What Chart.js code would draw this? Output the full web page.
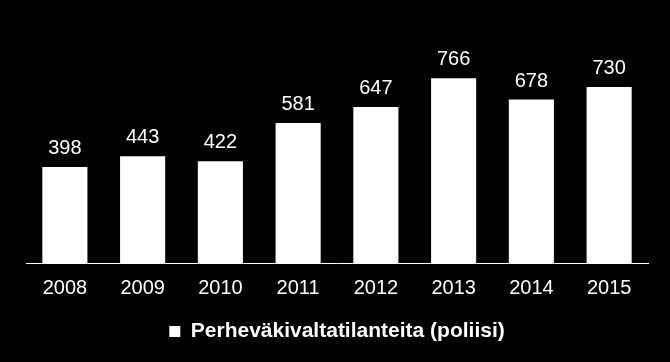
<!DOCTYPE html>
<html>
<head>
<meta charset="utf-8">
<script src="https://cdn.jsdelivr.net/npm/chart.js@4"></script>
<style>
html,body{margin:0;padding:0;background:#000;}
canvas{display:block;}
</style>
</head>
<body>
<canvas id="c" width="670" height="362"></canvas>
<script>
const categories = ["2008","2009","2010","2011","2012","2013","2014","2015"];
const values = [398,443,422,581,647,766,678,730];
const seriesName = "Perheväkivaltatilanteita (poliisi)";

const FONT = '"Liberation Sans", Arial, sans-serif';

const valueLabels = {
  id: 'valueLabels',
  afterDatasetsDraw(chart) {
    const ctx = chart.ctx;
    const meta = chart.getDatasetMeta(0);
    ctx.save();
    ctx.fillStyle = '#fff';
    ctx.font = '20px ' + FONT;
    ctx.textAlign = 'center';
    ctx.textBaseline = 'alphabetic';
    meta.data.forEach((bar, i) => {
      ctx.fillText(String(values[i]), bar.x, bar.y - 13);
    });
    ctx.restore();
  }
};

const bg = {
  id: 'bg',
  beforeDraw(chart) {
    const ctx = chart.ctx;
    ctx.save();
    ctx.fillStyle = '#000';
    ctx.fillRect(0, 0, chart.width, chart.height);
    ctx.restore();
  }
};

new Chart(document.getElementById('c'), {
  type: 'bar',
  data: {
    labels: categories,
    datasets: [{
      label: seriesName,
      data: values,
      backgroundColor: '#fff',
      borderWidth: 0,
      barPercentage: 0.58,
      categoryPercentage: 1.0
    }]
  },
  options: {
    responsive: false,
    animation: false,
    devicePixelRatio: 1,
    layout: { padding: { left: 26, right: 22, top: 46, bottom: 10 } },
    scales: {
      x: {
        grid: { display: false, drawTicks: false },
        border: { display: true, color: '#fff', width: 1 },
        ticks: { color: '#fff', padding: 13, font: { size: 20, family: FONT } }
      },
      y: {
        display: false,
        min: 0,
        max: 900
      }
    },
    plugins: {
      legend: {
        position: 'bottom',
        labels: {
          color: '#fff',
          boxWidth: 11,
          boxHeight: 11,
          padding: 8,
          font: { size: 21, weight: 'bold', family: FONT }
        }
      },
      tooltip: { enabled: false }
    }
  },
  plugins: [bg, valueLabels]
});
</script>
</body>
</html>
